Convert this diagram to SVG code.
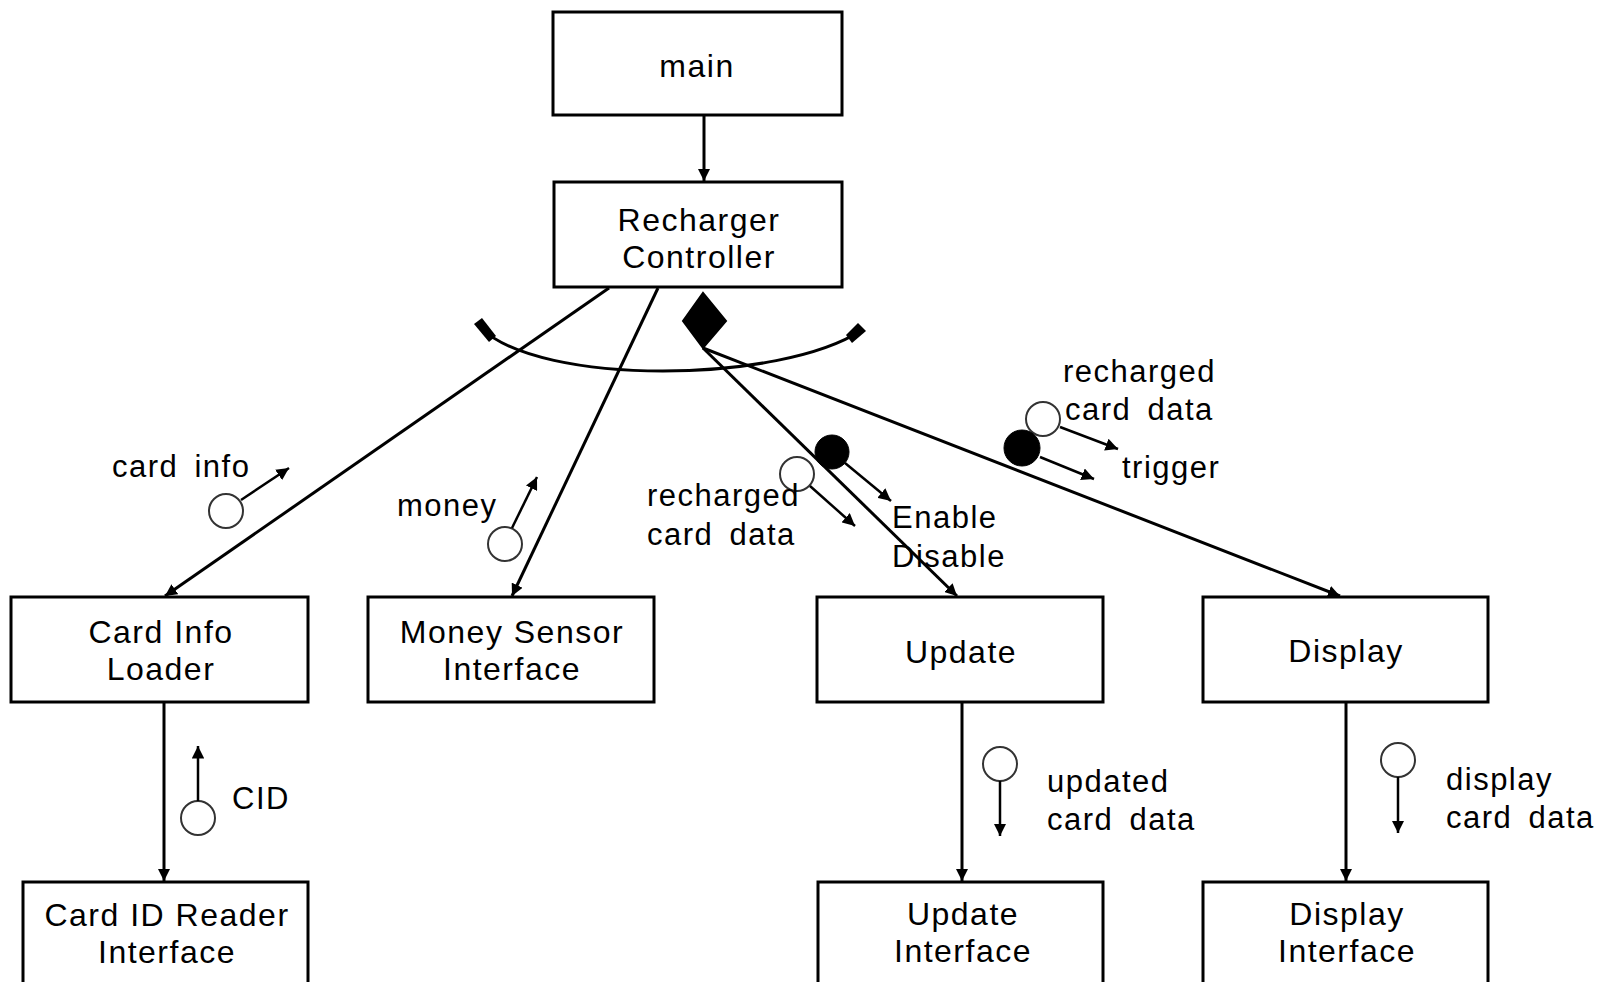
<svg xmlns="http://www.w3.org/2000/svg" width="1609" height="982" viewBox="0 0 1609 982">
<style>
.box{fill:#fff;stroke:#000;stroke-width:3}
.nt{font-family:"Liberation Sans",Arial,sans-serif;font-size:32px;letter-spacing:1.5px;fill:#000;text-anchor:middle}
.lb{font-family:"Liberation Sans",Arial,sans-serif;font-size:31px;letter-spacing:1.5px;word-spacing:6px;fill:#000}
.con{fill:none;stroke:#000;stroke-width:3}
.cp{fill:none;stroke:#000;stroke-width:2.5}
.oc{fill:#fff;stroke:#333;stroke-width:2}
.fc{fill:#000;stroke:#000;stroke-width:1}
</style>
<defs>
<marker id="ah" viewBox="0 0 10 10" refX="10" refY="5" markerWidth="4" markerHeight="4" orient="auto" markerUnits="strokeWidth">
<path d="M0,0 L10,5 L0,10 z" fill="#000"/>
</marker>
<marker id="ah2" viewBox="0 0 10 10" refX="10" refY="5" markerWidth="5" markerHeight="5" orient="auto" markerUnits="strokeWidth">
<path d="M0,0 L10,5 L0,10 z" fill="#000"/>
</marker>
</defs>
<rect width="1609" height="982" fill="#fff"/>

<g id="connectors">
<line class="con" x1="704" y1="115" x2="704" y2="181" marker-end="url(#ah)"/>
<line class="con" x1="609" y1="288" x2="165" y2="596" marker-end="url(#ah)"/>
<line class="con" x1="658" y1="288" x2="512" y2="596" marker-end="url(#ah)"/>
<line class="con" x1="703" y1="348" x2="957" y2="596" marker-end="url(#ah)"/>
<line class="con" x1="703" y1="348" x2="1340" y2="596" marker-end="url(#ah)"/>
<line class="con" x1="164" y1="702" x2="164" y2="881" marker-end="url(#ah)"/>
<line class="con" x1="962" y1="702" x2="962" y2="881" marker-end="url(#ah)"/>
<line class="con" x1="1346" y1="702" x2="1346" y2="881" marker-end="url(#ah)"/>
<path d="M703,293 L726,321 L703,348 L683,321 Z" fill="#000" stroke="#000" stroke-width="2"/>
<path class="con" d="M481,328 C540,386 780,384 862,330"/>
<path d="M474,324 L482,318 L496,336 L489,342 Z" fill="#000"/>
<path d="M846,335 L858,323 L866,331 L852,343 Z" fill="#000"/>
</g>

<g id="couples">
<circle class="oc" cx="226" cy="511" r="17"/>
<line class="cp" x1="241" y1="500" x2="289" y2="468" marker-end="url(#ah2)"/>
<text class="lb" x="112" y="477">card info</text>

<circle class="oc" cx="505" cy="544" r="17"/>
<line class="cp" x1="512" y1="528" x2="537" y2="477" marker-end="url(#ah2)"/>
<text class="lb" x="397" y="516">money</text>

<circle class="oc" cx="797" cy="474" r="17"/>
<line class="cp" x1="810" y1="486" x2="855" y2="526" marker-end="url(#ah2)"/>
<text class="lb" x="647" y="506">recharged</text>
<text class="lb" x="647" y="545">card data</text>

<circle class="fc" cx="832" cy="452" r="17"/>
<line class="cp" x1="845" y1="463" x2="891" y2="501" marker-end="url(#ah2)"/>
<text class="lb" x="892" y="528">Enable</text>
<text class="lb" x="892" y="567">Disable</text>

<circle class="oc" cx="1043" cy="419" r="17"/>
<line class="cp" x1="1060" y1="427" x2="1118" y2="449" marker-end="url(#ah2)"/>
<text class="lb" x="1063" y="382">recharged</text>
<text class="lb" x="1065" y="420">card data</text>

<circle class="fc" cx="1022" cy="448" r="18"/>
<line class="cp" x1="1040" y1="457" x2="1094" y2="479" marker-end="url(#ah2)"/>
<text class="lb" x="1122" y="478">trigger</text>

<circle class="oc" cx="198" cy="818" r="17"/>
<line class="cp" x1="198" y1="801" x2="198" y2="746" marker-end="url(#ah2)"/>
<text class="lb" x="232" y="809">CID</text>

<circle class="oc" cx="1000" cy="764" r="17"/>
<line class="cp" x1="1000" y1="781" x2="1000" y2="836" marker-end="url(#ah2)"/>
<text class="lb" x="1047" y="792">updated</text>
<text class="lb" x="1047" y="830">card data</text>

<circle class="oc" cx="1398" cy="760" r="17"/>
<line class="cp" x1="1398" y1="777" x2="1398" y2="833" marker-end="url(#ah2)"/>
<text class="lb" x="1446" y="790">display</text>
<text class="lb" x="1446" y="828">card data</text>
</g>

<g id="main">
<rect class="box" x="553" y="12" width="289" height="103"/>
<text class="nt" x="697" y="77">main</text>
</g>
<g id="recharger-controller">
<rect class="box" x="554" y="182" width="288" height="105"/>
<text class="nt" x="699" y="231">Recharger</text>
<text class="nt" x="699" y="268">Controller</text>
</g>
<g id="card-info-loader">
<rect class="box" x="11" y="597" width="297" height="105"/>
<text class="nt" x="161" y="643">Card Info</text>
<text class="nt" x="161" y="680">Loader</text>
</g>
<g id="money-sensor-interface">
<rect class="box" x="368" y="597" width="286" height="105"/>
<text class="nt" x="512" y="643">Money Sensor</text>
<text class="nt" x="512" y="680">Interface</text>
</g>
<g id="update">
<rect class="box" x="817" y="597" width="286" height="105"/>
<text class="nt" x="961" y="663">Update</text>
</g>
<g id="display">
<rect class="box" x="1203" y="597" width="285" height="105"/>
<text class="nt" x="1346" y="662">Display</text>
</g>
<g id="card-id-reader-interface">
<rect class="box" x="23" y="882" width="285" height="120"/>
<text class="nt" x="167" y="926">Card ID Reader</text>
<text class="nt" x="167" y="963">Interface</text>
</g>
<g id="update-interface">
<rect class="box" x="818" y="882" width="285" height="120"/>
<text class="nt" x="963" y="925">Update</text>
<text class="nt" x="963" y="962">Interface</text>
</g>
<g id="display-interface">
<rect class="box" x="1203" y="882" width="285" height="120"/>
<text class="nt" x="1347" y="925">Display</text>
<text class="nt" x="1347" y="962">Interface</text>
</g>
</svg>
